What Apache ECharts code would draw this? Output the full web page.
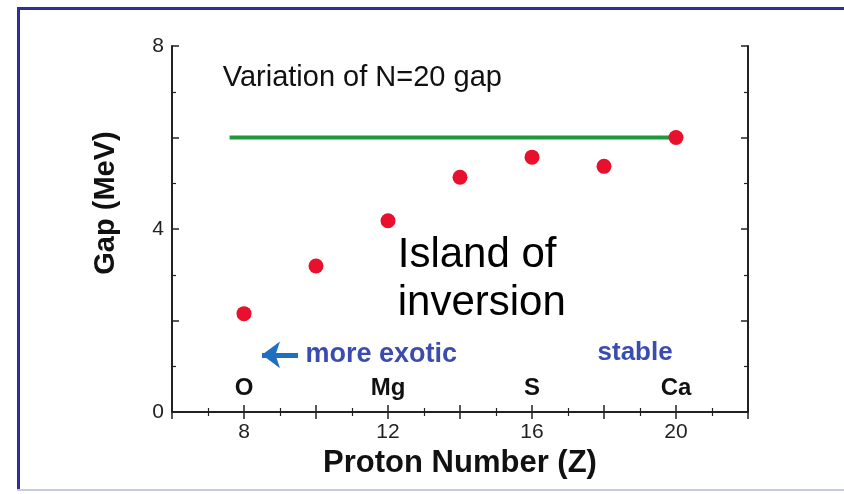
<!DOCTYPE html>
<html>
<head>
<meta charset="utf-8">
<script src="https://cdn.jsdelivr.net/npm/echarts@6/dist/echarts.min.js"></script>
<style>
html,body{margin:0;padding:0;background:#fff;}
#chart{width:844px;height:494px;}
</style>
</head>
<body>
<div id="chart"></div>
<script>
// Data
const protonNumbers = [8, 10, 12, 14, 16, 18, 20];
const gapValues = [2.15, 3.19, 4.18, 5.13, 5.57, 5.37, 6.0];
const referenceLineX = [7.6, 20];
const referenceLineY = 6.0;
const elementNames = ['O', 'Mg', 'S', 'Ca'];
const elementZ = [8, 12, 16, 20];
const xTickLabels = [8, 12, 16, 20];
const yTickLabels = [0, 4, 8];

const FONT = '"Liberation Sans", Arial, Helvetica, sans-serif';

const chart = echarts.init(document.getElementById('chart'), null, {renderer: 'canvas'});

const axisLine = {show: true, lineStyle: {color: '#222', width: 2}};
const tick = {show: true, inside: true, length: 7, lineStyle: {color: '#222', width: 1.5}};
const minor = {show: true, splitNumber: 2, length: 4, lineStyle: {color: '#222', width: 1.2}};

function textPoint(x, y, text, style) {
  return {
    value: [x, y],
    label: Object.assign({show: true, formatter: text, position: [0, 0], align: 'left', verticalAlign: 'middle', fontFamily: FONT}, style)
  };
}

chart.setOption({
  backgroundColor: '#fff',
  animation: false,
  grid: {left: 172, right: 96, top: 46, bottom: 82},
  xAxis: [{
    type: 'value', min: 6, max: 22, interval: 2, position: 'bottom',
    name: 'Proton Number (Z)', nameLocation: 'middle', nameGap: 36,
    nameTextStyle: {fontFamily: FONT, fontWeight: 'bold', fontSize: 31, color: '#111'},
    axisLine: axisLine, axisTick: tick, minorTick: minor, splitLine: {show: false},
    axisLabel: {margin: 10, fontFamily: FONT, fontSize: 21, color: '#222',
      formatter: v => xTickLabels.indexOf(v) >= 0 ? String(v) : ''}
  }, {
    type: 'value', min: 6, max: 22, interval: 2, position: 'top',
    axisLine: axisLine, axisTick: tick, minorTick: minor, splitLine: {show: false},
    axisLabel: {show: false}
  }],
  yAxis: [{
    type: 'value', min: 0, max: 8, interval: 2, position: 'left',
    name: 'Gap (MeV)', nameLocation: 'middle', nameGap: 52,
    nameTextStyle: {fontFamily: FONT, fontWeight: 'bold', fontSize: 29, color: '#111', padding: [0, 0, 0, 52]},
    axisLine: axisLine, axisTick: tick, minorTick: minor, splitLine: {show: false},
    axisLabel: {margin: 8, fontFamily: FONT, fontSize: 21, color: '#222',
      formatter: v => yTickLabels.indexOf(v) >= 0 ? String(v) : ''}
  }, {
    type: 'value', min: 0, max: 8, interval: 2, position: 'right',
    axisLine: axisLine, axisTick: tick, minorTick: minor, splitLine: {show: false},
    axisLabel: {show: false}
  }],
  series: [{
    type: 'line',
    data: referenceLineX.map(x => [x, referenceLineY]),
    symbol: 'none',
    lineStyle: {color: '#1f9a3a', width: 4},
    z: 2
  }, {
    type: 'scatter',
    data: protonNumbers.map((z, i) => [z, gapValues[i]]),
    symbolSize: 15,
    itemStyle: {color: '#e8102c', opacity: 1},
    z: 3
  }, {
    type: 'scatter',
    symbolSize: 0,
    silent: true,
    itemStyle: {opacity: 1},
    data: elementZ.map((z, i) => ({
      value: [z, 0.52],
      label: {show: true, formatter: elementNames[i], position: [0, 0], align: 'center', verticalAlign: 'middle',
        fontFamily: FONT, fontWeight: 'bold', fontSize: 24, color: '#111'}
    })),
    z: 4
  }, {
    type: 'scatter',
    symbolSize: 0,
    silent: true,
    itemStyle: {opacity: 1},
    data: [
      textPoint(7.41, 7.29, 'Variation of N=20 gap', {fontSize: 29, color: '#111'}),
      textPoint(12.27, 2.90, 'Island of\ninversion', {fontSize: 42, lineHeight: 48, color: '#000'}),
      textPoint(9.71, 1.245, 'more exotic', {fontSize: 27, fontWeight: 'bold', color: '#3b4cb0'}),
      textPoint(17.82, 1.29, 'stable', {fontSize: 26, fontWeight: 'bold', color: '#3b4cb0'})
    ],
    markLine: {
      silent: true,
      symbol: ['none', 'arrow'],
      symbolSize: [20, 18],
      label: {show: false},
      lineStyle: {color: '#1f6fc0', width: 5, type: 'solid', opacity: 1},
      data: [[{coord: [9.5, 1.25]}, {coord: [8.5, 1.25]}]]
    },
    z: 4
  }],
  graphic: [
    {type: 'rect', shape: {x: 17, y: 7, width: 827, height: 3}, style: {fill: '#2e2e9e'}, silent: true},
    {type: 'rect', shape: {x: 17, y: 7, width: 3, height: 484}, style: {fill: '#2e2e9e'}, silent: true},
    {type: 'rect', shape: {x: 17, y: 489, width: 827, height: 2}, style: {fill: '#c8cbe0'}, silent: true}
  ]
});
</script>
</body>
</html>
